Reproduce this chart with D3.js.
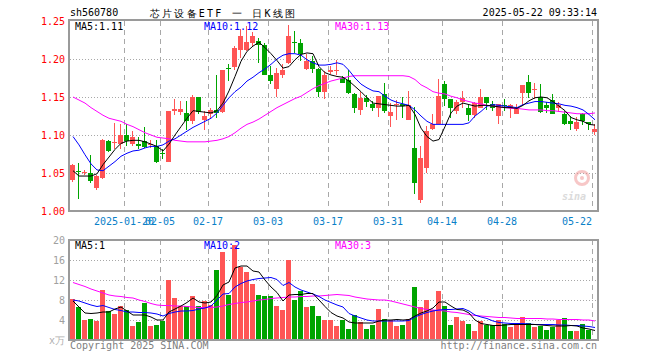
<!DOCTYPE html>
<html>
<head>
<meta charset="utf-8">
<title>芯片设备ETF 日K线图</title>
<script src="https://cdn.jsdelivr.net/npm/d3@7"></script>
<style>
  body { margin: 0; background: #fff; }
  svg { display: block; }
  text { font-family: "DejaVu Sans Mono", monospace; font-size: 10px; }
</style>
</head>
<body>
<svg id="chart" width="660" height="360"></svg>
<script>
// trading days shown on the chart
const dates = [
  '2025-01-07','2025-01-08','2025-01-09','2025-01-10','2025-01-13','2025-01-14','2025-01-15','2025-01-16','2025-01-17',
  '2025-01-20','2025-01-21','2025-01-22','2025-01-23','2025-01-24','2025-01-27',
  '2025-02-05','2025-02-06','2025-02-07','2025-02-10','2025-02-11','2025-02-12','2025-02-13','2025-02-14',
  '2025-02-17','2025-02-18','2025-02-19','2025-02-20','2025-02-21','2025-02-24','2025-02-25','2025-02-26','2025-02-27','2025-02-28',
  '2025-03-03','2025-03-04','2025-03-05','2025-03-06','2025-03-07','2025-03-10','2025-03-11','2025-03-12','2025-03-13','2025-03-14',
  '2025-03-17','2025-03-18','2025-03-19','2025-03-20','2025-03-21','2025-03-24','2025-03-25','2025-03-26','2025-03-27','2025-03-28',
  '2025-03-31','2025-04-01','2025-04-02','2025-04-03','2025-04-07','2025-04-08','2025-04-09','2025-04-10','2025-04-11',
  '2025-04-14','2025-04-15','2025-04-16','2025-04-17','2025-04-18','2025-04-21','2025-04-22','2025-04-23','2025-04-24','2025-04-25',
  '2025-04-28','2025-04-29','2025-04-30','2025-05-06','2025-05-07','2025-05-08','2025-05-09',
  '2025-05-12','2025-05-13','2025-05-14','2025-05-15','2025-05-16','2025-05-19','2025-05-20','2025-05-21','2025-05-22'
];

const open = [1.041,1.053,1.050,1.050,1.030,1.043,1.092,1.089,1.088,1.100, 1.088,1.088,1.092,1.087,1.086,1.076,1.065,1.131,1.130,1.129,
  1.118,1.150,1.120,1.127,1.133,1.130,1.188,1.190,1.212,1.212, 1.221,1.224,1.219,1.179,1.160,1.179,1.195,1.222,1.221,1.187,
  1.198,1.187,1.157,1.183,1.184,1.175,1.173,1.154,1.133,1.149, 1.141,1.135,1.154,1.125,1.139,1.141,1.120,1.083,1.015,1.056,
  1.108,1.114,1.167,1.147,1.131,1.143,1.135,1.126,1.136,1.150, 1.141,1.125,1.140,1.135,1.128,1.155,1.170,1.159,1.150,1.139,
  1.146,1.135,1.128,1.119,1.108,1.127,1.117,1.104];
const high = [1.062,1.063,1.054,1.074,1.047,1.095,1.093,1.116,1.115,1.115, 1.105,1.097,1.111,1.094,1.094,1.082,1.132,1.147,1.145,1.145,
  1.152,1.150,1.131,1.136,1.179,1.186,1.194,1.217,1.239,1.243, 1.236,1.227,1.221,1.191,1.188,1.193,1.245,1.237,1.226,1.206,
  1.204,1.188,1.184,1.191,1.199,1.177,1.186,1.155,1.156,1.152, 1.145,1.151,1.168,1.142,1.146,1.150,1.158,1.137,1.085,1.112,
  1.127,1.174,1.171,1.147,1.146,1.158,1.139,1.144,1.161,1.150, 1.145,1.141,1.147,1.141,1.141,1.166,1.179,1.168,1.167,1.143,
  1.154,1.144,1.131,1.125,1.124,1.129,1.117,1.114];
const low = [1.038,1.016,1.048,1.037,1.028,1.042,1.078,1.082,1.082,1.086, 1.085,1.081,1.083,1.083,1.063,1.068,1.064,1.126,1.126,1.107,
  1.114,1.127,1.106,1.122,1.123,1.129,1.171,1.186,1.201,1.210, 1.217,1.195,1.179,1.167,1.150,1.175,1.193,1.208,1.198,1.186,
  1.182,1.150,1.147,1.180,1.179,1.168,1.154,1.129,1.126,1.137, 1.131,1.124,1.129,1.111,1.120,1.122,1.120,1.023,1.010,1.050,
  1.107,1.114,1.138,1.122,1.127,1.136,1.119,1.122,1.135,1.133, 1.132,1.114,1.131,1.122,1.127,1.139,1.149,1.147,1.129,1.129,
  1.127,1.130,1.113,1.107,1.105,1.113,1.107,1.100];
const close = [1.061,1.051,1.051,1.040,1.046,1.094,1.079,1.091,1.100,1.092, 1.098,1.086,1.084,1.088,1.064,1.075,1.132,1.134,1.134,1.119,
  1.150,1.130,1.125,1.133,1.129,1.186,1.187,1.214,1.230,1.223, 1.230,1.219,1.179,1.171,1.182,1.186,1.230,1.221,1.207,1.198,
  1.187,1.157,1.179,1.186,1.185,1.168,1.155,1.135,1.149,1.144, 1.136,1.151,1.131,1.130,1.141,1.138,1.139,1.037,1.070,1.105,
  1.114,1.151,1.148,1.136,1.143,1.149,1.126,1.142,1.150,1.142, 1.136,1.141,1.138,1.139,1.136,1.166,1.155,1.160,1.130,1.135,
  1.128,1.139,1.114,1.114,1.117,1.119,1.114,1.108];

// volume, in 万
const volume = [8.3,6.7,4.0,4.3,3.8,10.1,5.8,5.3,6.9,6.0, 2.9,3.6,7.5,2.9,3.1,3.8,12.1,8.5,6.8,6.9,
  8.9,6.9,7.8,7.1,14.0,17.6,9.1,19.1,14.7,13.6, 11.3,9.1,8.8,8.8,6.8,6.0,16.1,8.1,9.9,6.6,
  6.9,4.9,4.1,4.0,2.8,4.1,2.3,5.1,3.7,2.3, 3.1,6.3,4.3,4.0,2.8,3.1,4.3,10.6,6.6,8.0,
  6.1,9.8,6.9,3.1,4.7,3.8,3.3,1.8,3.8,3.0, 3.0,4.1,3.3,2.6,3.1,4.7,3.5,2.6,2.9,2.0,
  2.6,4.0,4.5,1.8,1.8,3.3,2.0,0.3];

// moving averages as drawn on the price panel
const ma5 = [1.053,1.046,1.046,1.046,1.049,1.061,1.071,1.081,1.089,1.092, 1.093,1.093,1.091,1.088,1.085,1.079,1.088,1.100,1.111,1.122,
  1.132,1.131,1.130,1.129,1.132,1.142,1.158,1.177,1.197,1.210, 1.217,1.222,1.215,1.207,1.198,1.188,1.190,1.199,1.206,1.208,
  1.207,1.190,1.182,1.179,1.177,1.176,1.171,1.164,1.157,1.149, 1.142,1.141,1.140,1.139,1.138,1.138,1.139,1.127,1.109,1.098,
  1.092,1.094,1.111,1.129,1.138,1.142,1.140,1.138,1.139,1.139, 1.138,1.137,1.136,1.136,1.135,1.139,1.145,1.149,1.150,1.149,
  1.144,1.138,1.132,1.123,1.120,1.118,1.114,1.113];
const ma10 = [1.098,1.087,1.074,1.062,1.054,1.053,1.059,1.065,1.072,1.076, 1.079,1.080,1.083,1.085,1.085,1.087,1.092,1.095,1.100,1.105,
  1.110,1.114,1.118,1.122,1.129,1.139,1.149,1.157,1.163,1.171, 1.176,1.182,1.187,1.193,1.200,1.205,1.207,1.207,1.205,1.199,
  1.195,1.192,1.192,1.193,1.195,1.193,1.185,1.175,1.167,1.162, 1.158,1.157,1.151,1.146,1.143,1.141,1.139,1.133,1.125,1.118,
  1.114,1.114,1.114,1.114,1.114,1.114,1.116,1.125,1.131,1.138, 1.140,1.139,1.138,1.137,1.136,1.140,1.142,1.144,1.144,1.143,
  1.142,1.141,1.139,1.138,1.136,1.133,1.127,1.120];
const ma30 = [1.150,1.146,1.142,1.136,1.131,1.126,1.122,1.120,1.118,1.114, 1.111,1.107,1.103,1.100,1.097,1.096,1.095,1.093,1.092,1.091,
  1.091,1.091,1.091,1.092,1.093,1.095,1.098,1.103,1.109,1.114, 1.117,1.121,1.126,1.131,1.136,1.140,1.144,1.148,1.151,1.156,
  1.161,1.165,1.168,1.171,1.173,1.175,1.177,1.178,1.178,1.178, 1.178,1.178,1.178,1.178,1.178,1.178,1.177,1.173,1.166,1.162,
  1.157,1.155,1.154,1.151,1.149,1.146,1.144,1.142,1.141,1.139, 1.138,1.137,1.136,1.135,1.135,1.134,1.133,1.133,1.133,1.132,
  1.132,1.131,1.130,1.129,1.128,1.128,1.128,1.129];

// moving averages as drawn on the volume panel
const vma5 = [7.8,6.6,5.4,5.3,5.4,5.6,5.6,6.2,6.6,5.8, 5.0,5.0,5.0,4.6,4.0,4.0,5.6,6.2,6.8,7.5,
  8.4,7.6,7.4,7.6,8.9,11.0,11.6,14.4,14.8,14.8, 13.8,13.6,12.0,10.6,9.5,7.8,9.0,9.1,9.1,9.3,
  9.3,8.0,6.7,5.5,4.8,4.4,3.6,3.4,3.4,3.4, 3.4,3.8,4.0,4.0,4.1,4.0,4.1,4.8,5.4,5.8,
  6.4,7.6,7.6,6.8,6.1,6.0,5.4,4.0,3.3,3.1, 2.9,2.9,3.0,3.1,3.1,3.1,3.1,3.1,3.0,2.9,
  2.8,2.8,2.8,2.9,2.8,2.4,2.2,1.9];
const vma10 = [8.0,7.8,7.4,7.0,6.7,6.9,6.5,6.1,5.9,5.6, 5.6,5.5,5.5,5.4,5.2,4.8,5.3,5.6,5.8,5.8,
  5.9,6.2,6.4,6.8,8.0,9.2,9.3,10.6,11.3,11.8, 12.1,12.3,12.4,12.5,12.1,10.9,11.5,10.6,10.0,9.6,
  9.2,8.7,8.0,7.5,7.0,6.6,5.3,4.8,4.4,4.0, 3.8,3.8,3.8,3.8,3.8,3.8,3.9,4.6,5.1,5.5,
  5.8,6.0,6.1,6.1,6.2,6.3,5.8,5.0,4.6,4.3, 3.8,3.5,3.4,3.3,3.3,3.3,3.2,3.1,3.1,3.1,
  3.1,3.0,3.0,2.9,2.9,2.8,2.7,2.5];
const vma30 = [11.5,11.1,10.7,10.2,9.8,9.4,9.0,8.8,8.7,8.5, 8.4,8.0,7.7,7.3,7.0,6.9,6.9,6.8,6.8,6.7,
  6.6,6.5,6.5,6.5,6.6,6.8,7.1,7.3,7.5,7.6, 7.8,8.0,8.1,8.3,8.4,8.5,8.6,8.6,8.7,8.7,
  8.8,8.8,8.9,9.0,9.1,9.0,8.9,8.6,8.4,8.2, 8.1,8.0,8.0,7.8,7.5,7.2,6.9,6.6,6.3,6.1,
  6.0,5.9,5.8,5.6,5.5,5.3,5.1,4.9,4.8,4.7, 4.6,4.5,4.5,4.4,4.3,4.3,4.3,4.3,4.3,4.2,
  4.2,4.1,4.1,4.1,4.1,4.0,4.0,3.8];

const priceTicks = [1.00, 1.05, 1.10, 1.15, 1.20, 1.25];
const volTicks = [4, 8, 12, 16, 20];
const tickDates = ['2025-01-20','2025-02-05','2025-02-17','2025-03-03','2025-03-17','2025-03-31','2025-04-14','2025-04-28','2025-05-22'];
const tickLabels = ['2025-01-20','02-05','02-17','03-03','03-17','03-31','04-14','04-28','05-22'];

const UP = '#ff5555';
const DOWN = '#00a400';
const GRID = '#a8a8a8';
const FRAME = '#9a9a9a';

function drawChart() {
    const svg = d3.select('#chart');
    svg.selectAll('*').remove();

    const left = 70, right = 598;
    const priceTop = 21, priceBottom = 211;
    const volTop = 240, volBottom = 340;

    const x = d3.scaleBand()
        .domain(dates)
        .range([left, right])
        .padding(0);
    const bw = x.bandwidth();
    const cx = d => x(d) + 2.5;

    const y = d3.scaleLinear().domain([1.00, 1.25]).range([priceBottom, priceTop]);
    const yv = d3.scaleLinear().domain([0, 20]).range([volBottom, volTop]);

    const rows = dates.map((d, i) => ({
        date: d, open: open[i], high: high[i], low: low[i], close: close[i], vol: volume[i],
        up: close[i] >= open[i]
    }));

    // horizontal dotted grid
    svg.append('g').selectAll('line')
        .data(priceTicks.slice(1, -1))
        .enter().append('line')
        .attr('x1', left).attr('x2', right)
        .attr('y1', d => Math.round(y(d)) + 0.5).attr('y2', d => Math.round(y(d)) + 0.5)
        .attr('stroke', GRID).attr('stroke-dasharray', '1,2');

    svg.append('g').selectAll('line')
        .data(volTicks.slice(0, -1))
        .enter().append('line')
        .attr('x1', left).attr('x2', right)
        .attr('y1', d => Math.round(yv(d)) + 0.5).attr('y2', d => Math.round(yv(d)) + 0.5)
        .attr('stroke', GRID).attr('stroke-dasharray', '1,2');

    // vertical dashed grid, both panels
    [[priceTop, priceBottom], [volTop, volBottom]].forEach(([t, b]) => {
        svg.append('g').selectAll('line')
            .data(tickDates)
            .enter().append('line')
            .attr('x1', d => x(d) + 0.5).attr('x2', d => x(d) + 0.5)
            .attr('y1', t).attr('y2', b)
            .attr('stroke', GRID).attr('stroke-dasharray', '5,4');
    });

    // sina watermark
    const wm = svg.append('g').attr('opacity', 0.5);
    wm.append('circle').attr('cx', 582).attr('cy', 178).attr('r', 6.5)
        .attr('fill', 'none').attr('stroke', '#f09090').attr('stroke-width', 3);
    wm.append('circle').attr('cx', 582).attr('cy', 178).attr('r', 2).attr('fill', '#f09090');
    wm.append('text').attr('x', 562).attr('y', 200)
        .attr('font-family', 'Liberation Sans, Arial, sans-serif')
        .attr('font-size', 18).attr('font-style', 'italic').attr('font-weight', 'bold')
        .attr('fill', '#b8b8b8').text('sina');

    // candles
    const candles = svg.append('g').attr('shape-rendering', 'crispEdges');
    candles.selectAll('.wick')
        .data(rows)
        .enter().append('line')
        .attr('class', 'wick')
        .attr('x1', d => cx(d.date)).attr('x2', d => cx(d.date))
        .attr('y1', d => y(d.high)).attr('y2', d => y(d.low))
        .attr('stroke', d => d.up ? UP : DOWN);

    candles.selectAll('.body')
        .data(rows)
        .enter().append('rect')
        .attr('class', 'body')
        .attr('x', d => x(d.date))
        .attr('y', d => y(Math.max(d.open, d.close)))
        .attr('width', bw - 1)
        .attr('height', d => Math.max(1, Math.abs(y(d.open) - y(d.close))))
        .attr('fill', d => d.up ? UP : DOWN);

    // volume bars
    svg.append('g').attr('shape-rendering', 'crispEdges')
        .selectAll('rect')
        .data(rows)
        .enter().append('rect')
        .attr('x', d => x(d.date))
        .attr('y', d => yv(d.vol))
        .attr('width', bw - 1)
        .attr('height', d => volBottom - yv(d.vol))
        .attr('fill', d => d.up ? UP : DOWN);

    // moving average lines
    const priceLine = d3.line().x((v, i) => x(dates[i]) + bw / 2).y(v => y(v));
    const volLine = d3.line().x((v, i) => x(dates[i]) + bw / 2).y(v => yv(v));

    [[ma30, '#ff00ff'], [ma10, '#0000ff'], [ma5, '#000000']].forEach(([arr, color]) => {
        svg.append('path').datum(arr)
            .attr('d', priceLine)
            .attr('fill', 'none').attr('stroke', color).attr('stroke-width', 1);
    });
    [[vma30, '#ff00ff'], [vma10, '#0000ff'], [vma5, '#000000']].forEach(([arr, color]) => {
        svg.append('path').datum(arr)
            .attr('d', volLine)
            .attr('fill', 'none').attr('stroke', color).attr('stroke-width', 1);
    });

    // frames
    [[priceTop - 1, priceBottom], [volTop, volBottom]].forEach(([t, b]) => {
        svg.append('rect')
            .attr('x', left - 1).attr('y', t)
            .attr('width', right - left + 1).attr('height', b - t)
            .attr('fill', 'none').attr('stroke', FRAME).attr('stroke-width', 2);
    });

    // price axis labels
    const priceAxis = svg.append('g')
        .attr('transform', `translate(${left},0)`)
        .call(d3.axisLeft(y).tickValues(priceTicks).tickFormat(d3.format('.2f')).tickSize(0).tickPadding(5));
    priceAxis.select('.domain').remove();
    priceAxis.selectAll('text')
        .attr('fill', '#ff0000')
        .attr('font-family', '"DejaVu Sans Mono", monospace')
        .attr('font-size', 10);

    const volAxis = svg.append('g')
        .attr('transform', `translate(${left},0)`)
        .call(d3.axisLeft(yv).tickValues(volTicks).tickSize(0).tickPadding(5));
    volAxis.select('.domain').remove();
    volAxis.selectAll('text')
        .attr('fill', '#a0a0a0')
        .attr('font-family', '"DejaVu Sans Mono", monospace')
        .attr('font-size', 10);

    svg.append('text').attr('x', 65).attr('y', 344).attr('text-anchor', 'end')
        .attr('fill', '#b0b0b0').attr('font-size', 9)
        .attr('font-family', '"Noto Sans CJK SC", sans-serif').text('x万');

    // date labels
    svg.append('g').selectAll('text')
        .data(tickDates)
        .enter().append('text')
        .attr('x', d => x(d))
        .attr('y', 225)
        .attr('text-anchor', (d, i) => i === tickDates.length - 1 ? 'end' : 'middle')
        .attr('fill', '#0a80c8')
        .text((d, i) => tickLabels[i]);

    // header
    svg.append('text').attr('x', 70).attr('y', 16).text('sh560780');
    svg.append('text').attr('x', 150).attr('y', 17)
        .attr('font-family', '"Noto Sans CJK SC", sans-serif').attr('font-size', 13)
        .attr('textLength', 145).attr('lengthAdjust', 'spacing')
        .text('芯片设备ETF 一 日K线图');
    svg.append('text').attr('x', 597).attr('y', 16).attr('text-anchor', 'end')
        .text('2025-05-22 09:33:14');

    // legends with last MA values
    const n = dates.length - 1;
    const legends = [
        [`MA5:${ma5[n].toFixed(2)}`, '#000000', 75, 30],
        [`MA10:${ma10[n].toFixed(2)}`, '#0000ff', 204, 30],
        [`MA30:${ma30[n].toFixed(2)}`, '#ff00ff', 335, 30],
        [`MA5:${Math.floor(vma5[n])}`, '#000000', 75, 249],
        [`MA10:${Math.floor(vma10[n])}`, '#0000ff', 204, 249],
        [`MA30:${Math.floor(vma30[n])}`, '#ff00ff', 335, 249]
    ];
    legends.forEach(([label, color, lx, ly]) => {
        svg.append('text').attr('x', lx).attr('y', ly).attr('fill', color).text(label);
    });

    // footer
    svg.append('text').attr('x', 70).attr('y', 348.5).attr('fill', '#808080').text('Copyright 2025 SINA.COM');
    svg.append('text').attr('x', 597).attr('y', 348.5).attr('text-anchor', 'end')
        .attr('fill', '#808080').text('http://finance.sina.com.cn');
}

document.addEventListener('DOMContentLoaded', drawChart);
</script>
</body>
</html>
